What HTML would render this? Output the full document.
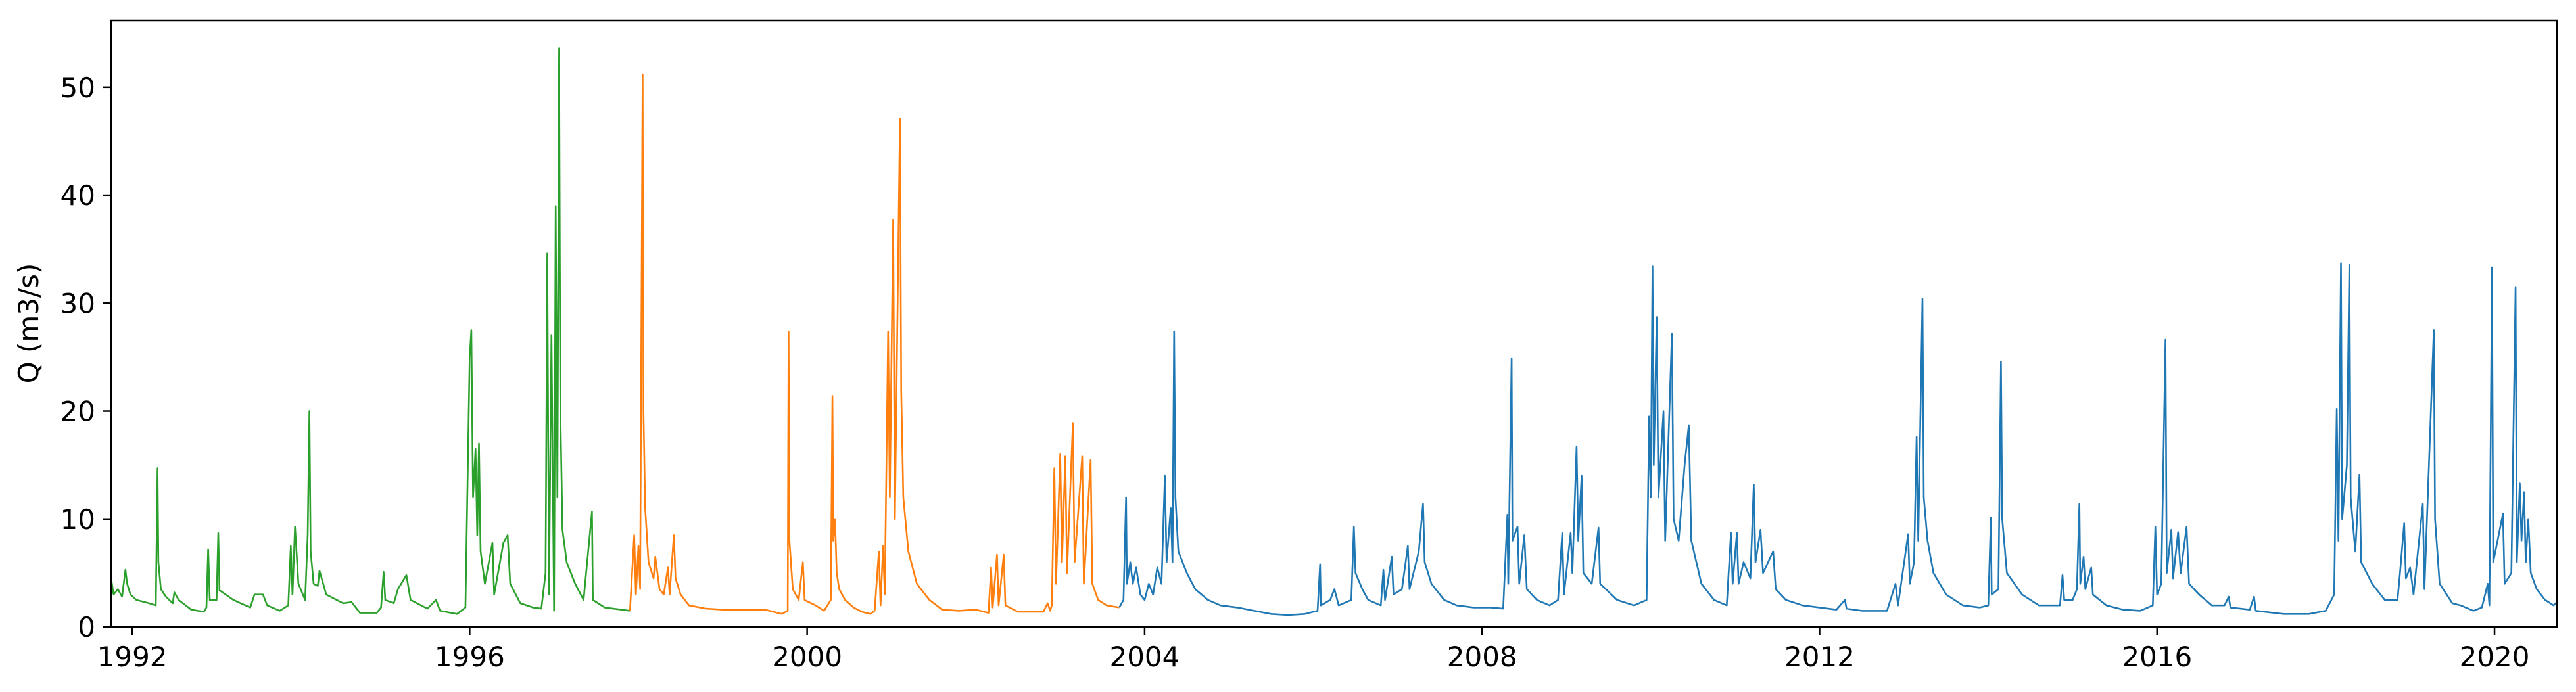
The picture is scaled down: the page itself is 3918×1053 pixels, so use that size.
<!DOCTYPE html>
<html><head><meta charset="utf-8"><style>
html,body{margin:0;padding:0;background:#fff;}
svg{display:block;font-family:"DejaVu Sans","Liberation Sans",sans-serif;}
</style></head><body>
<svg id="chart" width="3918" height="1053" viewBox="0 0 3918 1053" xmlns="http://www.w3.org/2000/svg">
<rect x="0" y="0" width="3918" height="1053" fill="#fff"/>
<g id="series"></g>
<g id="axes"></g>
<text transform="translate(58,492) rotate(-90)" text-anchor="middle" font-size="42">Q (m3/s)</text>
</svg>
<script>
const xTicks = [1992, 1996, 2000, 2004, 2008, 2012, 2016, 2020];
const yTicks = [0, 10, 20, 30, 40, 50];
const greenYears = [1991.75,1991.78,1991.83,1991.88,1991.92,1991.94,1991.98,1992.05,1992.2,1992.28,1992.3,1992.31,1992.34,1992.4,1992.48,1992.5,1992.55,1992.7,1992.85,1992.88,1992.9,1992.92,1993.0,1993.02,1993.035,1993.2,1993.4,1993.45,1993.55,1993.6,1993.75,1993.85,1993.88,1993.9,1993.93,1993.97,1994.05,1994.08,1994.1,1994.115,1994.15,1994.2,1994.22,1994.3,1994.5,1994.6,1994.7,1994.9,1994.95,1994.98,1995.0,1995.1,1995.15,1995.25,1995.3,1995.5,1995.6,1995.65,1995.85,1995.95,1996.0,1996.02,1996.04,1996.07,1996.09,1996.11,1996.13,1996.18,1996.27,1996.29,1996.4,1996.45,1996.48,1996.6,1996.75,1996.85,1996.9,1996.92,1996.94,1996.97,1997.0,1997.02,1997.04,1997.06,1997.075,1997.1,1997.15,1997.25,1997.35,1997.45,1997.46,1997.6,1997.8,1997.9];
const greenQ = [4.5,3,3.5,2.8,5.3,4,3,2.5,2.2,2.0,14.7,6,3.5,2.8,2.2,3.2,2.5,1.6,1.4,1.8,7.2,2.5,2.5,8.7,3.4,2.5,1.8,3,3,2.0,1.5,2,7.5,3,9.3,4,2.5,8.5,20,7,4,3.8,5.2,3,2.2,2.3,1.3,1.3,1.8,5.1,2.5,2.2,3.5,4.8,2.5,1.7,2.5,1.5,1.2,1.8,25,27.5,12,16.5,8.5,17,7,4,7.8,3,7.8,8.5,4,2.2,1.8,1.7,5,34.6,3,27,1.5,39,12,53.6,20,9,6,4,2.5,10.7,2.5,1.8,1.6,1.5];
const orangeYears = [1997.9,1997.95,1997.97,1998.0,1998.02,1998.05,1998.06,1998.08,1998.12,1998.18,1998.2,1998.25,1998.3,1998.35,1998.37,1998.42,1998.44,1998.5,1998.6,1998.8,1999.0,1999.3,1999.5,1999.7,1999.77,1999.78,1999.79,1999.83,1999.9,1999.95,1999.97,2000.1,2000.2,2000.28,2000.3,2000.31,2000.33,2000.35,2000.38,2000.45,2000.55,2000.65,2000.75,2000.8,2000.85,2000.87,2000.9,2000.92,2000.96,2000.98,2001.02,2001.04,2001.1,2001.115,2001.14,2001.2,2001.3,2001.45,2001.6,2001.8,2002.0,2002.15,2002.18,2002.2,2002.25,2002.27,2002.33,2002.35,2002.5,2002.8,2002.85,2002.88,2002.9,2002.93,2002.95,2003.0,2003.02,2003.06,2003.08,2003.15,2003.17,2003.26,2003.28,2003.36,2003.38,2003.45,2003.55,2003.7];
const orangeQ = [1.5,8.5,3,7.5,3.5,51.2,20,11,6,4.5,6.5,3.5,3,5.5,3,8.5,4.5,3,2,1.7,1.6,1.6,1.6,1.2,1.5,27.4,8,3.5,2.5,6,2.5,2,1.5,2.5,21.4,8,10,5,3.5,2.5,1.8,1.4,1.2,1.5,7,2,7.5,3,27.4,12,37.7,10,47.1,22,12,7,4,2.5,1.6,1.5,1.6,1.3,5.5,1.8,6.7,2,6.7,2,1.4,1.4,2.2,1.5,2,14.7,4,16,6,15.8,5,18.9,6,15.8,4,15.5,4,2.5,2,1.8];
const blueYears = [2003.7,2003.75,2003.78,2003.79,2003.83,2003.86,2003.9,2003.95,2004.0,2004.05,2004.1,2004.15,2004.2,2004.24,2004.26,2004.31,2004.33,2004.35,2004.365,2004.4,2004.5,2004.6,2004.75,2004.9,2005.1,2005.3,2005.5,2005.7,2005.9,2006.05,2006.08,2006.09,2006.2,2006.25,2006.3,2006.45,2006.48,2006.5,2006.58,2006.65,2006.8,2006.83,2006.85,2006.93,2006.95,2007.05,2007.12,2007.14,2007.25,2007.3,2007.32,2007.4,2007.55,2007.7,2007.9,2008.1,2008.25,2008.3,2008.31,2008.35,2008.36,2008.42,2008.44,2008.5,2008.53,2008.65,2008.8,2008.9,2008.95,2008.97,2009.05,2009.07,2009.12,2009.14,2009.18,2009.2,2009.3,2009.38,2009.4,2009.6,2009.8,2009.95,2009.98,2010.0,2010.02,2010.035,2010.07,2010.09,2010.15,2010.17,2010.25,2010.27,2010.33,2010.4,2010.45,2010.48,2010.6,2010.75,2010.9,2010.95,2010.97,2011.02,2011.04,2011.1,2011.18,2011.22,2011.24,2011.3,2011.33,2011.45,2011.48,2011.6,2011.8,2012.0,2012.2,2012.3,2012.32,2012.5,2012.8,2012.9,2012.93,2013.05,2013.07,2013.12,2013.15,2013.17,2013.22,2013.235,2013.28,2013.35,2013.5,2013.7,2013.9,2014.0,2014.03,2014.04,2014.12,2014.15,2014.165,2014.22,2014.4,2014.6,2014.85,2014.88,2014.9,2015.0,2015.05,2015.08,2015.09,2015.13,2015.15,2015.22,2015.24,2015.4,2015.6,2015.8,2015.95,2015.98,2016.0,2016.05,2016.1,2016.115,2016.17,2016.19,2016.25,2016.28,2016.35,2016.38,2016.5,2016.65,2016.8,2016.85,2016.87,2017.1,2017.15,2017.17,2017.5,2017.8,2018.0,2018.1,2018.13,2018.15,2018.18,2018.195,2018.25,2018.28,2018.295,2018.35,2018.4,2018.42,2018.55,2018.7,2018.85,2018.88,2018.93,2018.95,2019.0,2019.04,2019.15,2019.17,2019.28,2019.295,2019.35,2019.5,2019.6,2019.75,2019.85,2019.92,2019.94,2019.97,2019.985,2020.1,2020.12,2020.2,2020.25,2020.265,2020.3,2020.32,2020.35,2020.37,2020.4,2020.43,2020.5,2020.6,2020.7,2020.74];
const blueQ = [1.8,2.5,12,4,6,4,5.5,3,2.5,4,3,5.5,4,14,6,11,6,27.4,12,7,5,3.5,2.5,2,1.8,1.5,1.2,1.1,1.2,1.5,5.8,2,2.5,3.5,2,2.5,9.3,5,3.5,2.5,2,5.3,2.5,6.5,3,3.5,7.5,3.5,7,11.4,6,4,2.5,2,1.8,1.8,1.7,10.4,4,24.9,8,9.3,4,8.5,3.5,2.5,2,2.5,8.7,3,8.7,5,16.7,8,14,5,4,9.2,4,2.5,2,2.5,19.5,12,33.4,15,28.7,12,20,8,27.2,10,8,15,18.7,8,4,2.5,2,8.7,4,8.7,4,6,4.5,13.2,6,9,5,7,3.5,2.5,2,1.8,1.6,2.5,1.7,1.5,1.5,4,2,8.6,4,6,17.6,8,30.4,12,8,5,3,2,1.8,2,10.1,3,3.5,24.6,10,5,3,2,2,4.8,2.5,2.5,3.5,11.4,4,6.5,3.5,5.5,3,2,1.6,1.5,2,9.3,3,4,26.6,5,9,4.5,8.8,5,9.3,4,3,2,2,2.8,1.8,1.6,2.8,1.5,1.2,1.2,1.5,3,20.2,8,33.7,10,15,33.6,12,7,14.1,6,4,2.5,2.5,5,9.6,4.5,5.5,3,11.4,3.5,27.5,10,4,2.2,2,1.5,1.8,4,2,33.3,6,10.5,4,5,31.5,6,13.3,8,12.5,6,10,5,3.5,2.5,2,2.3];

const NS = "http://www.w3.org/2000/svg";
const L = 169, R = 3889, T = 31, B = 954;
const X0 = 1991.75, X1 = 2020.74, Y0 = 0, Y1 = 56.2;
function xScale(v){ return L + (v - X0) / (X1 - X0) * (R - L); }
function yScale(v){ return B - (v - Y0) / (Y1 - Y0) * (B - T); }

const sg = document.getElementById('series');
function drawSeries(years, q, color, name){
  let d = '';
  for (let i = 0; i < years.length; i++) {
    d += (i ? 'L' : 'M') + xScale(years[i]).toFixed(1) + ',' + yScale(q[i]).toFixed(1);
  }
  const p = document.createElementNS(NS, 'path');
  p.setAttribute('d', d);
  p.setAttribute('fill', 'none');
  p.setAttribute('stroke', color);
  p.setAttribute('stroke-width', '2.6');
  p.setAttribute('stroke-linejoin', 'round');
  
  
  sg.appendChild(p);
}
drawSeries(greenYears, greenQ, '#2ca02c', 'series-green');
drawSeries(orangeYears, orangeQ, '#ff7f0e', 'series-orange');
drawSeries(blueYears, blueQ, '#1f77b4', 'series-blue');

const ax = document.getElementById('axes');
const frame = document.createElementNS(NS, 'rect');
frame.setAttribute('x', L); frame.setAttribute('y', T);
frame.setAttribute('width', R - L); frame.setAttribute('height', B - T);
frame.setAttribute('fill', 'none'); frame.setAttribute('stroke', '#000'); frame.setAttribute('stroke-width', '2.5');


ax.appendChild(frame);

xTicks.forEach(function(t){
  const x = xScale(t);
  const ln = document.createElementNS(NS, 'line');
  ln.setAttribute('x1', x); ln.setAttribute('x2', x);
  ln.setAttribute('y1', B); ln.setAttribute('y2', B + 12);
  ln.setAttribute('stroke', '#000'); ln.setAttribute('stroke-width', '2.5');
  
  
  ax.appendChild(ln);
  const tx = document.createElementNS(NS, 'text');
  tx.setAttribute('x', x); tx.setAttribute('y', B + 60);
  tx.setAttribute('text-anchor', 'middle'); tx.setAttribute('font-size', '42');
  tx.textContent = t;
  
  
  ax.appendChild(tx);
});
yTicks.forEach(function(t){
  const y = yScale(t);
  const ln = document.createElementNS(NS, 'line');
  ln.setAttribute('x1', L - 12); ln.setAttribute('x2', L);
  ln.setAttribute('y1', y); ln.setAttribute('y2', y);
  ln.setAttribute('stroke', '#000'); ln.setAttribute('stroke-width', '2.5');
  
  
  ax.appendChild(ln);
  const tx = document.createElementNS(NS, 'text');
  tx.setAttribute('x', L - 24); tx.setAttribute('y', y + 15);
  tx.setAttribute('text-anchor', 'end'); tx.setAttribute('font-size', '42');
  tx.textContent = t;
  
  
  ax.appendChild(tx);
});
</script>
</body></html>
